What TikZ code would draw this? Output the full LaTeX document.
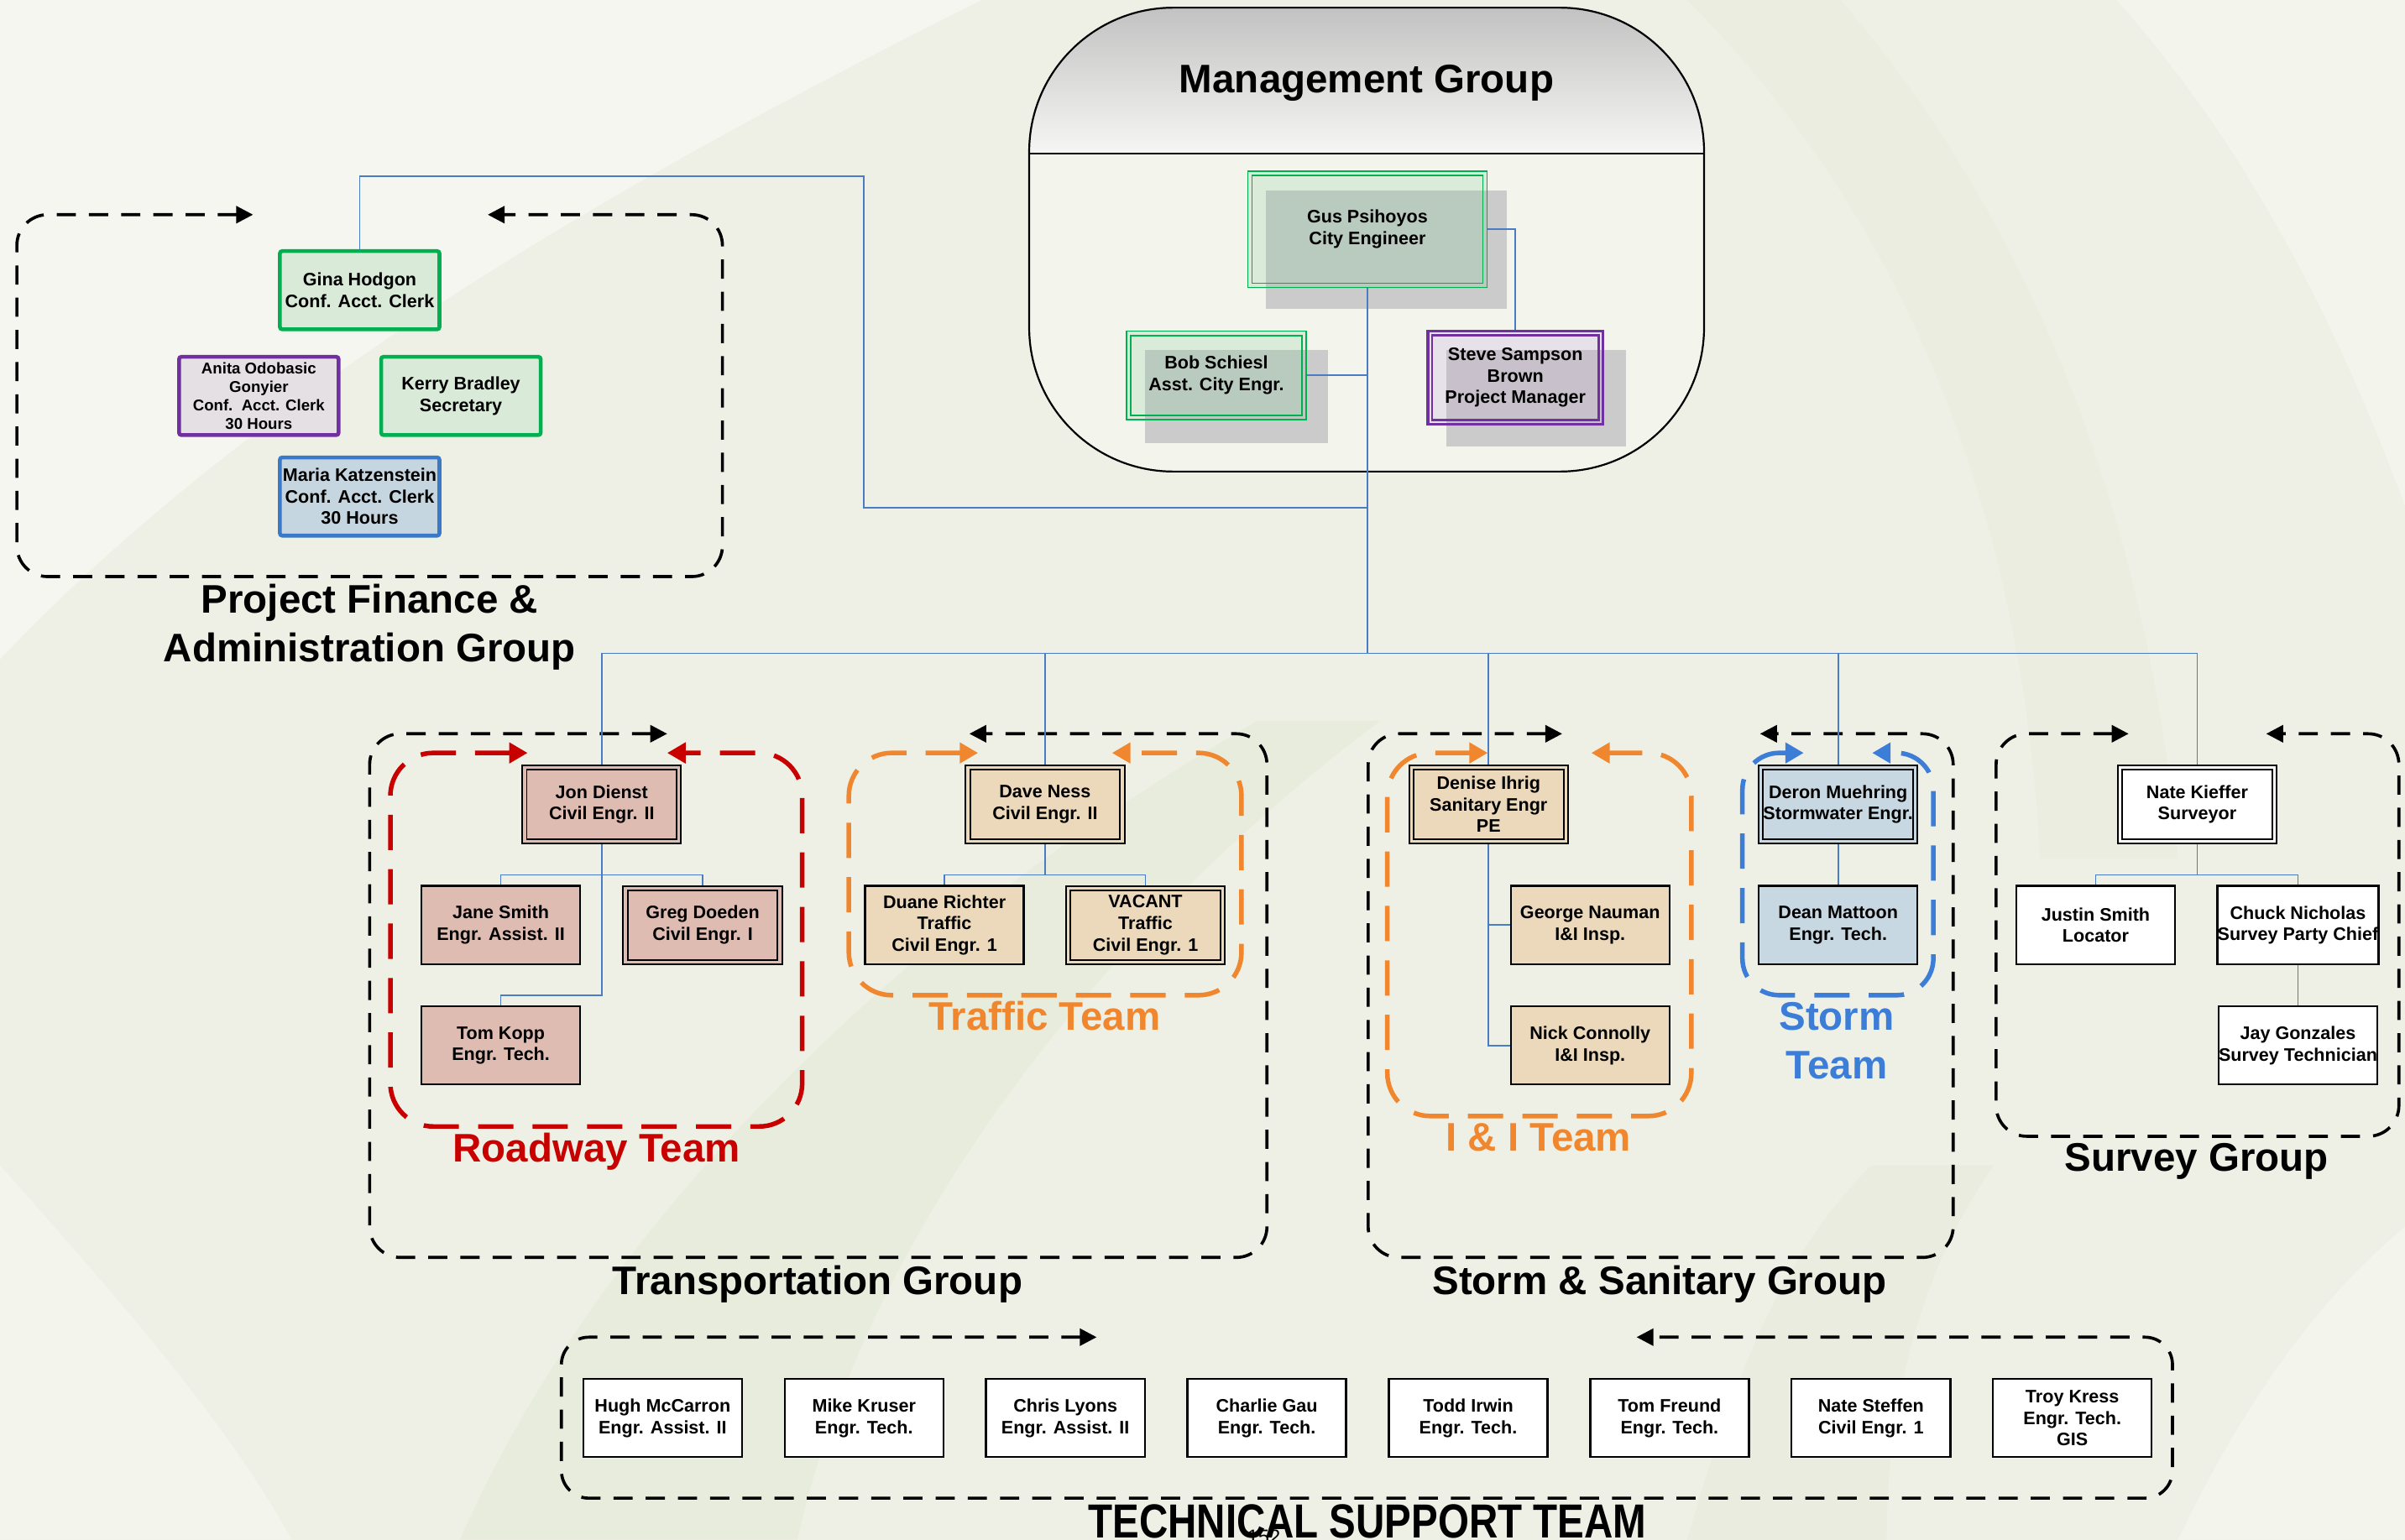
\documentclass[tikz,border=0pt]{standalone}
\usepackage{fontspec}
\setmainfont{Liberation Sans}
\usetikzlibrary{arrows.meta}
\definecolor{bgc}{HTML}{EEF0E5}
\definecolor{drk}{HTML}{DCE3CB}
\definecolor{connc}{HTML}{4A7CC4}
\definecolor{mgreen}{HTML}{00B050}
\definecolor{mpurple}{HTML}{7030A0}
\definecolor{mblue}{HTML}{3A78C8}
\definecolor{mgfill}{HTML}{DAEBD9}
\definecolor{mgov}{HTML}{B9CBBF}
\definecolor{stfill}{HTML}{E7E1EA}
\definecolor{stov}{HTML}{C8C1CB}
\definecolor{shadc}{HTML}{CBCBCB}
\definecolor{fgreen}{HTML}{D9EAD8}
\definecolor{flav}{HTML}{E4E0E4}
\definecolor{fblue}{HTML}{C5D6E0}
\definecolor{pinkf}{HTML}{DFBCB2}
\definecolor{tanf}{HTML}{ECD8BA}
\definecolor{stormf}{HTML}{C8D8E3}
\definecolor{redt}{HTML}{C80000}
\definecolor{oranget}{HTML}{F0872F}
\definecolor{bluet}{HTML}{3C7DD8}
\definecolor{hdtop}{HTML}{C2C2C2}
\definecolor{hdbot}{HTML}{F6F6F4}
\newcommand{\inframe}[4]{\draw[#2, line width=#4] ([shift={(#3,#3)}]#1.south west) rectangle ([shift={(-#3,-#3)}]#1.north east);}
\tikzset{
  conn/.style={draw=connc, line width=0.9pt},
  btxt/.style={font=\bfseries\fontsize{11.8}{14}\selectfont, align=center, text=black, inner sep=0pt},
  mbox/.style={btxt, line width=0.9pt},
  fbox/.style={btxt, line width=2.5pt, minimum width=104pt, minimum height=51pt, rounded corners=1.5pt},
  pbox/.style={btxt, draw=black, line width=1.3pt, minimum width=103.5pt, minimum height=51pt},
  dbox/.style={btxt, draw=black, line width=1.1pt, minimum width=103.5pt, minimum height=51pt},
  grp/.style={draw=black, line width=2pt, dash pattern=on 12.5pt off 8.5pt, rounded corners=20pt,
     arrows={Triangle[length=11pt,width=11pt]-Triangle[length=11pt,width=11pt]}},
  team/.style={line width=3pt, dash pattern=on 23pt off 12.5pt, rounded corners=28pt,
     arrows={Triangle[length=12pt,width=13pt]-Triangle[length=12pt,width=13pt]}},
  big/.style={font=\bfseries\fontsize{26}{30}\selectfont, anchor=base, inner sep=0pt},
}
\begin{document}
\begin{tikzpicture}[x=1pt,y=-1pt]
% background
\fill[bgc] (0,0) rectangle (1568,1004);
\useasboundingbox (0,0) rectangle (1568,1004);
\fill[white, opacity=0.4] (0,0) -- (640,0) .. controls (420,110) and (170,250) .. (0,430) -- cycle;
\fill[white, opacity=0.3] (0,760) .. controls (80,850) and (150,930) .. (190,1004) -- (0,1004) -- cycle;
\fill[drk, opacity=0.28] (300,1004) .. controls (380,820) and (560,620) .. (820,470) -- (900,470) .. controls (700,620) and (560,820) .. (520,1004) -- cycle;
\fill[drk, opacity=0.22] (1100,0) .. controls (1250,150) and (1320,350) .. (1330,560) -- (1420,560) .. controls (1400,330) and (1320,140) .. (1200,0) -- cycle;
\fill[white, opacity=0.3] (1380,0) -- (1568,0) -- (1568,330) .. controls (1520,200) and (1460,90) .. (1380,0) -- cycle;
\fill[drk, opacity=0.25] (1100,1004) .. controls (1130,900) and (1160,820) .. (1220,760) -- (1300,760) .. controls (1250,830) and (1230,920) .. (1230,1004) -- cycle;
\fill[white, opacity=0.3] (1420,1004) .. controls (1470,900) and (1520,840) .. (1568,800) -- (1568,1004) -- cycle;

% ---------- Management group ----------
\fill[white, opacity=0.3, rounded corners=94pt] (671,5) rectangle (1111,307.5);
\begin{scope}
\clip[rounded corners=94pt] (671,5) rectangle (1111,307.5);
\shade[top color=hdtop, bottom color=hdbot] (671,5) rectangle (1111,100);
\end{scope}
\draw[line width=1.2pt, rounded corners=94pt] (671,5) rectangle (1111,307.5);
\draw[line width=1.2pt] (671,100) -- (1111,100);
\node[big] (mgt) at (891,60.5) {Management Group};

% Gus
\fill[shadc] (825.5,124.5) rectangle (982.5,201.5);
\fill[mgfill] (813,111) rectangle (970,188);
\begin{scope}\clip (813,111) rectangle (970,188); \fill[mgov] (825.5,124.5) rectangle (982.5,201.5); \end{scope}
\node[mbox, draw=mgreen, minimum width=156pt, minimum height=76pt] (gus) at (891.5,149.5) {Gus Psihoyos\\City Engineer};
\inframe{gus}{mgreen}{3.2pt}{0.9pt}
% Bob
\fill[shadc] (746.5,228) rectangle (866,289);
\fill[mgfill] (734,215.5) rectangle (852,274);
\begin{scope}\clip (734,215.5) rectangle (852,274); \fill[mgov] (746.5,228) rectangle (866,289); \end{scope}
\node[mbox, draw=mgreen, minimum width=117pt, minimum height=57.5pt] (bob) at (793,244.75) {Bob Schiesl\\Asst. City Engr.};
\inframe{bob}{mgreen}{3.2pt}{0.9pt}
% Steve
\fill[shadc] (943,228) rectangle (1060,291);
\fill[stfill] (930,215) rectangle (1046,277.5);
\begin{scope}\clip (930,215) rectangle (1046,277.5); \fill[stov] (943,228) rectangle (1060,291); \end{scope}
\node[mbox, draw=mpurple, line width=1.8pt, minimum width=114pt, minimum height=60.5pt] (steve) at (988,246.25) {Steve Sampson\\Brown\\Project Manager};
\inframe{steve}{mpurple}{3.6pt}{1.5pt}

% ---------- Project Finance group ----------
\draw[grp] (165,140) -- (11,140) -- (11,376) -- (471,376) -- (471,140) -- (318,140);
\node[fbox, draw=mgreen, fill=fgreen] (gina) at (234.5,189.25) {Gina Hodgon\\Conf. Acct. Clerk};
\node[fbox, draw=mpurple, fill=flav, font=\bfseries\fontsize{10.2}{12}\selectfont] (anita) at (168.75,258.2) {Anita Odobasic\\Gonyier\\Conf.\ \ Acct. Clerk\\30 Hours};
\node[fbox, draw=mgreen, fill=fgreen] (kerry) at (300.5,258.2) {Kerry Bradley\\Secretary};
\node[fbox, draw=mblue, fill=fblue] (maria) at (234.5,323.8) {Maria Katzenstein\\Conf. Acct. Clerk\\30 Hours};
\node[big] (pfa1) at (241,400) {Project Finance \&};
\node[big] (pfa2) at (241,431.5) {Administration Group};

% ---------- Transportation group ----------
\draw[grp] (435,478.5) -- (241,478.5) -- (241,820) -- (826,820) -- (826,478.5) -- (632,478.5);
\draw[team, draw=redt] (344,491) -- (254.5,491) -- (254.5,734.6) -- (523,734.6) -- (523,491) -- (435,491);
\draw[team, draw=oranget] (637.7,491) -- (553.4,491) -- (553.4,649) -- (809.4,649) -- (809.4,491) -- (725,491);
\node[dbox, fill=pinkf] (jon) at (392.3,524.5) {Jon Dienst\\Civil Engr. II};
\inframe{jon}{black}{3.4pt}{1pt}
\node[pbox, fill=pinkf] (jane) at (326.5,603.25) {Jane Smith\\Engr. Assist. II};
\node[dbox, fill=pinkf] (greg) at (458.1,603.25) {Greg Doeden\\Civil Engr. I};
\inframe{greg}{black}{3.4pt}{1pt}
\node[pbox, fill=pinkf] (tom) at (326.5,681.75) {Tom Kopp\\Engr. Tech.};
\node[dbox, fill=tanf] (dave) at (681.35,524.5) {Dave Ness\\Civil Engr. II};
\inframe{dave}{black}{3.4pt}{1pt}
\node[pbox, fill=tanf] (duane) at (615.75,603.25) {Duane Richter\\Traffic\\Civil Engr. 1};
\node[dbox, fill=tanf] (vacant) at (746.8,603.25) {VACANT\\Traffic\\Civil Engr. 1};
\inframe{vacant}{black}{3.4pt}{1pt}
\node[big, text=redt] (rdt) at (389,757.5) {Roadway Team};
\node[big, text=oranget] (trt) at (681,672) {Traffic Team};
\node[big] (trg) at (533,844) {Transportation Group};

% ---------- Storm & Sanitary group ----------
\draw[grp] (1018.5,478.5) -- (892,478.5) -- (892,820) -- (1273.4,820) -- (1273.4,478.5) -- (1147.5,478.5);
\draw[team, draw=oranget] (970,491) -- (904.5,491) -- (904.5,727.8) -- (1102.7,727.8) -- (1102.7,491) -- (1037.5,491);
\draw[team, draw=bluet, rounded corners=24pt] (1176,491) -- (1136,491) -- (1136,649) -- (1260.5,649) -- (1260.5,491) -- (1220.6,491);
\node[dbox, fill=tanf] (denise) at (970.5,524.5) {Denise Ihrig\\Sanitary Engr\\PE};
\inframe{denise}{black}{3.4pt}{1pt}
\node[pbox, fill=tanf] (george) at (1036.7,603.25) {George Nauman\\I\&I Insp.};
\node[pbox, fill=tanf] (nick) at (1036.7,681.75) {Nick Connolly\\I\&I Insp.};
\node[dbox, fill=stormf] (deron) at (1198.4,524.5) {Deron Muehring\\Stormwater Engr.};
\inframe{deron}{black}{3.4pt}{1pt}
\node[pbox, fill=stormf] (dean) at (1198.4,603.25) {Dean Mattoon\\Engr. Tech.};
\node[big, text=oranget] (iit) at (1003,750.6) {I \& I Team};
\node[big, text=bluet] (stt1) at (1197.5,672) {Storm};
\node[big, text=bluet] (stt2) at (1197.5,703.3) {Team};
\node[big] (ssg) at (1082,844) {Storm \& Sanitary Group};

% ---------- Survey group ----------
\draw[grp] (1387.8,478.5) -- (1301.4,478.5) -- (1301.4,741) -- (1564,741) -- (1564,478.5) -- (1477.5,478.5);
\node[dbox, fill=white] (nate) at (1432.5,524.5) {Nate Kieffer\\Surveyor};
\inframe{nate}{black}{3.4pt}{1pt}
\node[pbox, fill=white] (justin) at (1366.3,603.25) {Justin Smith\\Locator};
\node[pbox, fill=white] (chuck) at (1498.2,603.25) {Chuck Nicholas\\Survey Party Chief};
\node[pbox, fill=white] (jay) at (1498.2,681.75) {Jay Gonzales\\Survey Technician};
\node[big] (svg) at (1432,764) {Survey Group};

% ---------- Technical support ----------
\draw[grp, rounded corners=18pt] (715,872) -- (366,872) -- (366,977) -- (1416.4,977) -- (1416.4,872) -- (1067,872);
\node[pbox, fill=white] (t1) at (432,924.75) {Hugh McCarron\\Engr. Assist. II};
\node[pbox, fill=white] (t2) at (563.3,924.75) {Mike Kruser\\Engr. Tech.};
\node[pbox, fill=white] (t3) at (694.6,924.75) {Chris Lyons\\Engr. Assist. II};
\node[pbox, fill=white] (t4) at (825.9,924.75) {Charlie Gau\\Engr. Tech.};
\node[pbox, fill=white] (t5) at (957.2,924.75) {Todd Irwin\\Engr. Tech.};
\node[pbox, fill=white] (t6) at (1088.5,924.75) {Tom Freund\\Engr. Tech.};
\node[pbox, fill=white] (t7) at (1219.8,924.75) {Nate Steffen\\Civil Engr. 1};
\node[pbox, fill=white] (t8) at (1351.1,924.75) {Troy Kress\\Engr. Tech.\\GIS};
\node[big, yscale=1.2] (tst) at (891.5,1003) {TECHNICAL SUPPORT TEAM};
\node[font=\fontsize{13}{15}\selectfont, anchor=base, inner sep=0pt] (pg) at (824,1006.5) {152};

% ---------- connectors ----------
\coordinate (busL) at (392.3,426);
\coordinate (fj) at (891.5,331);
\draw[conn] (gus.south) -- (gus.south |- busL);
\draw[conn] (bob.east) -- (bob.east -| gus.south);
\draw[conn] (gus.east) -| (steve.north);
\draw[conn] (fj) -| (563,115) -| (gina.north);
\draw[conn] (jon.north |- busL) -- (nate.north |- busL);
\foreach \n in {jon,dave,denise,deron,nate} \draw[conn] (\n.north |- busL) -- (\n.north);
\draw[conn] (jon.south) -- (jon.south |- 0,649) -| (tom.north);
\draw[conn] (jane.north) -- ++(0,-6.6) -| (greg.north);
\draw[conn] (dave.south) -- (dave.south |- 0,570.4);
\draw[conn] (duane.north) -- ++(0,-6.6) -| (vacant.north);
\draw[conn] (denise.south) |- (nick.west);
\draw[conn] (denise.south) |- (george.west);
\draw[conn] (deron.south) -- (dean.north);
\draw[conn] (nate.south) -- (nate.south |- 0,570.4);
\draw[conn] (justin.north) -- ++(0,-6.6) -| (chuck.north);
\draw[conn] (chuck.south) -- (jay.north);
\end{tikzpicture}
\end{document}
